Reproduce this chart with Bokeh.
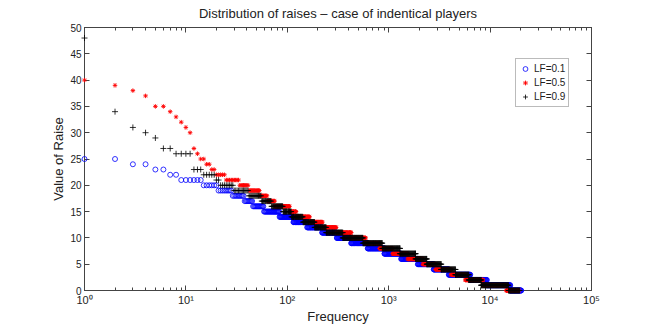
import numpy as np
from bokeh.plotting import figure
from bokeh.models import (LogAxis, LinearAxis, FixedTicker, Range1d, Legend, LegendItem,
                          CustomJSTickFormatter, LogTicker)
from bokeh.embed import file_html
from bokeh.resources import INLINE

# ---------------- data (value of raise, last rank of each run) ----------------
blue_values = [25, 24, 23, 22, 21, 20, 19, 18, 17, 16, 15, 14, 13, 12, 11, 10, 9, 8, 7, 6, 5, 4, 3, 2, 1, 0]
blue_last_rank = [2, 4, 6, 8, 14, 20, 28, 37, 45, 58, 83, 114, 156, 220, 307, 426, 621, 909, 1326,
                  1936, 2785, 3916, 6370, 9290, 15800, 20250]

red_values = [40, 39, 38, 37, 35, 34, 33, 32, 31, 30, 27, 26, 25, 24, 23, 22, 21, 20, 19, 18, 17, 16,
              15, 14, 13, 12, 11, 10, 9, 8, 7, 6, 5, 4, 3, 2, 1, 0]
red_last_rank = [1, 2, 3, 4, 6, 7, 8, 9, 10, 11, 12, 13, 15, 17, 19, 24, 33, 41, 53, 63, 75, 105,
                 122, 166, 221, 303, 427, 590, 811, 1096, 1544, 2169, 2899, 4129, 5714, 8470, 14419, 19300]

black_values = [48, 34, 31, 30, 29, 27, 26, 23, 22, 21, 20, 19, 18, 17, 16, 15, 14, 13, 12, 11, 10,
                9, 8, 7, 6, 5, 4, 3, 2, 1, 0]
black_last_rank = [1, 2, 3, 4, 5, 7, 11, 14, 19, 21, 29, 41, 55, 69, 90, 109, 142, 185, 241, 352, 556,
                   863, 1290, 1837, 2376, 3296, 4560, 6166, 8170, 15200, 19500]

series_labels = ["LF=0.1", "LF=0.5", "LF=0.9"]
xtick_values = [1, 10, 100, 1000, 10000, 100000]
xtick_labels = ["10\u2070", "10\u00b9", "10\u00b2", "10\u00b3", "10\u2074", "10\u2075"]
ytick_values = [0, 5, 10, 15, 20, 25, 30, 35, 40, 45, 50]


def expand(values, last_ranks):
    """Expand runs of ranks into points; thin ranks that would fall on the same sub-pixel."""
    xs, ys = [], []
    start = 1
    for v, end in zip(values, last_ranks):
        r = np.arange(start, end + 1)
        key = np.floor(np.log10(r) * 220).astype(int)
        _, idx = np.unique(key, return_index=True)
        keep = r[idx]
        if keep[-1] != r[-1]:
            keep = np.append(keep, r[-1])
        xs.extend(keep.tolist())
        ys.extend([v] * len(keep))
        start = end + 1
    return xs, ys


FONT = "Liberation Sans"
AX = "#444444"

p = figure(x_axis_type="log", frame_width=507, frame_height=263,
           x_range=Range1d(1, 100000), y_range=Range1d(0, 50),
           output_backend="svg", toolbar_location=None,
           min_border_left=84, min_border_right=50, min_border_top=27, min_border_bottom=10,
           background_fill_color="white", border_fill_color="white")
p.xgrid.visible = False
p.ygrid.visible = False
p.outline_line_color = AX

p.title.text = "Distribution of raises \u2013 case of indentical players"
p.title.align = "center"
p.title.vertical_align = "top"
p.title.text_font = FONT
p.title.text_font_size = "13px"
p.title.text_font_style = "normal"
p.title.text_color = "#222222"
p.title.standoff = 9

xa = p.xaxis[0]
xa.ticker = LogTicker(desired_num_ticks=6, num_minor_ticks=10)
xa.major_label_overrides = {v: l for v, l in zip(xtick_values, xtick_labels)}
ya = p.yaxis[0]
ya.ticker = FixedTicker(ticks=ytick_values)

for ax in (xa, ya):
    ax.major_tick_in = 5
    ax.major_tick_out = 0
    ax.minor_tick_in = 3
    ax.minor_tick_out = 0
    ax.axis_line_color = AX
    ax.major_tick_line_color = AX
    ax.minor_tick_line_color = AX
    ax.major_label_text_font = FONT
    ax.major_label_text_font_size = "10px"
    ax.major_label_text_color = "#222222"
    ax.axis_label_text_font = FONT
    ax.axis_label_text_font_size = "13px"
    ax.axis_label_text_font_style = "normal"
    ax.axis_label_text_color = "#222222"
    ax.major_label_standoff = 3
    ax.axis_label_standoff = 1

xa.major_label_text_font_size = "11px"
xa.axis_label_standoff = 0
xa.axis_label = "Frequency"
ya.axis_label = "Value of Raise"
ya.minor_tick_line_color = None

blank = CustomJSTickFormatter(code="return ''")
top = LogAxis(ticker=LogTicker(desired_num_ticks=6, num_minor_ticks=10), formatter=blank,
              major_tick_in=5, major_tick_out=0, minor_tick_in=3, minor_tick_out=0,
              axis_line_color=AX, major_tick_line_color=AX, minor_tick_line_color=AX,
              major_label_standoff=0)
right = LinearAxis(ticker=FixedTicker(ticks=ytick_values), formatter=blank,
                   major_tick_in=5, major_tick_out=0, minor_tick_line_color=None,
                   axis_line_color=AX, major_tick_line_color=AX, major_label_standoff=0)
p.add_layout(top, "above")
p.add_layout(right, "right")

bx, by = expand(blue_values, blue_last_rank)
rx, ry = expand(red_values, red_last_rank)
kx, ky = expand(black_values, black_last_rank)

r_blue = p.scatter(bx, by, marker="circle", size=5, fill_color=None, line_color="#0000ff", line_width=0.8)
r_red = p.scatter(rx, ry, marker="asterisk", size=4.5, line_color="#ff0000", line_width=0.9)
r_black = p.scatter(kx, ky, marker="cross", size=6, line_color="#000000", line_width=0.8)
for r in (r_blue, r_red, r_black):
    r.level = "overlay"

legend = Legend(items=[LegendItem(label=series_labels[0], renderers=[r_blue]),
                       LegendItem(label=series_labels[1], renderers=[r_red]),
                       LegendItem(label=series_labels[2], renderers=[r_black])],
                location=(431, 183), padding=3, spacing=1, margin=0,
                label_height=13, glyph_height=13, glyph_width=12, label_standoff=3,
                label_text_font=FONT, label_text_font_size="10px", label_text_color="#222222",
                border_line_color="#777777", background_fill_color="white", background_fill_alpha=1)
p.add_layout(legend, "center")

open("out.html", "w").write(file_html(p, INLINE))
